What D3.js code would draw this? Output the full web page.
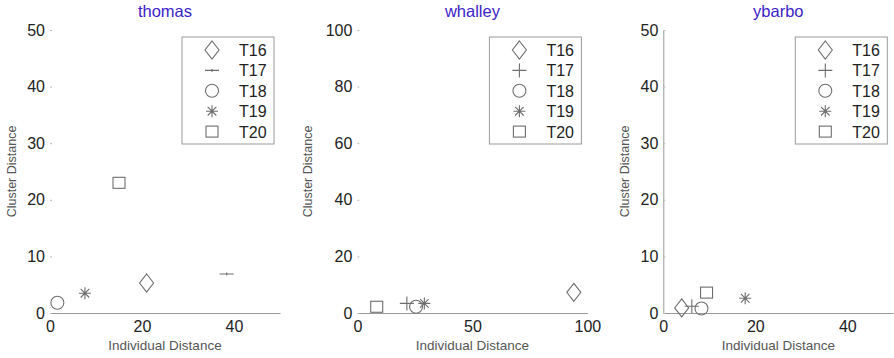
<!DOCTYPE html>
<html>
<head>
<meta charset="utf-8">
<title>Cluster vs Individual Distance</title>
<script src="https://d3js.org/d3.v7.min.js"></script>
<style>
  body { margin: 0; background: #fff; }
  text { font-family: "Liberation Sans", Arial, sans-serif; }
</style>
</head>
<body>
<div id="chart"></div>
<script>
// data
var names = ["thomas", "whalley", "ybarbo"];
var series = ["T16", "T17", "T18", "T19", "T20"];
var shapes = ["diamond", "plus", "circle", "star", "square"];
var thomasX = [21, 38.4, 1.6, 7.6, 15];
var thomasY = [5.3, 6.9, 1.8, 3.5, 23];
var whalleyX = [94.1, 21.5, 25.5, 29.1, 8.4];
var whalleyY = [7.3, 3.4, 2.2, 3.4, 2.2];
var ybarboX = [4.0, 6.2, 8.3, 17.8, 9.4];
var ybarboY = [0.9, 1.2, 0.8, 2.6, 3.6];
var xMax = [50, 100, 50];
var yMax = [50, 100, 50];
var xTicks = [[0, 20, 40], [0, 50, 100], [0, 20, 40]];
var yTicks = [[0, 10, 20, 30, 40, 50], [0, 20, 40, 60, 80, 100], [0, 10, 20, 30, 40, 50]];

var allX = [thomasX, whalleyX, ybarboX];
var allY = [thomasY, whalleyY, ybarboY];

var W = 894, H = 358;
var svg = d3.select("#chart").append("svg").attr("width", W).attr("height", H);

// layout of each panel
var left = [50, 357.4, 663.3];
var plotW = 230, plotTop = 30, plotBottom = 313;
var ylabX = [12, 308, 625];
var showYLine = [false, false, true];
var plusV = [1.5, 7, 7];
var markerColor = "#6e6e6e";

function drawMarker(g, shape, cx, cy, pv) {
  var s = g.append("g").attr("transform", "translate(" + cx + "," + cy + ")")
    .attr("fill", "none").attr("stroke", markerColor).attr("stroke-width", 1.1);
  if (shape == "diamond") {
    s.append("path").attr("d", "M0,-9L7,0L0,9L-7,0Z");
  } else if (shape == "plus") {
    s.append("path").attr("d", "M-7,0H7M0,-" + pv + "V" + pv);
  } else if (shape == "circle") {
    s.append("circle").attr("r", 6.5);
  } else if (shape == "star") {
    s.append("path").attr("d", "M-6,0H6M0,-6V6M-4.3,-4.3L4.3,4.3M-4.3,4.3L4.3,-4.3");
  } else if (shape == "square") {
    s.append("rect").attr("x", -6).attr("y", -5.5).attr("width", 12).attr("height", 11);
  }
}

names.forEach(function(name, p) {
  var x = d3.scaleLinear().domain([0, xMax[p]]).range([left[p], left[p] + plotW]);
  var y = d3.scaleLinear().domain([0, yMax[p]]).range([plotBottom, plotTop]);
  var g = svg.append("g");

  // x axis
  var xa = g.append("g").attr("transform", "translate(0," + plotBottom + ")")
    .call(d3.axisBottom(x).tickValues(xTicks[p]).tickSize(0).tickPadding(8).tickSizeOuter(0));
  xa.select(".domain").attr("stroke", "#9a9a9a");
  xa.selectAll("text").attr("fill", "#222").style("font-size", "16px");

  // y axis
  var ya = g.append("g").attr("transform", "translate(" + left[p] + ",0)")
    .call(d3.axisLeft(y).tickValues(yTicks[p]).tickSize(-2).tickPadding(5).tickSizeOuter(0));
  ya.select(".domain").attr("stroke", showYLine[p] ? "#9a9a9a" : "none");
  ya.selectAll(".tick line").attr("stroke", "#bbb");
  ya.selectAll("text").attr("fill", "#222").style("font-size", "16px");

  // title
  g.append("text").attr("x", left[p] + 115).attr("y", 17).attr("text-anchor", "middle")
    .attr("fill", "#3b22c9").style("font-size", "16.5px").text(name);

  // axis labels
  g.append("text").attr("x", left[p] + 115).attr("y", 350).attr("text-anchor", "middle")
    .attr("fill", "#555").style("font-size", "13.5px").text("Individual Distance");
  g.append("text").attr("transform", "translate(" + (ylabX[p] + 4) + "," + ((plotTop + plotBottom) / 2) + ") rotate(-90)")
    .attr("text-anchor", "middle").attr("fill", "#555").style("font-size", "12.5px").text("Cluster Distance");

  // points
  series.forEach(function(s, i) {
    drawMarker(g, shapes[i], x(allX[p][i]), y(allY[p][i]), plusV[p]);
  });

  // legend
  var lx = left[p] + 132, ly = 37;
  var lg = g.append("g").attr("transform", "translate(" + lx + "," + ly + ")");
  lg.append("rect").attr("width", 92).attr("height", 107).attr("fill", "#fff")
    .attr("stroke", "#9a9a9a");
  series.forEach(function(s, i) {
    var ry = 13 + i * 20.4;
    drawMarker(lg, shapes[i], 30, ry, plusV[p]);
    lg.append("text").attr("x", 57).attr("y", ry + 6).attr("fill", "#222")
      .style("font-size", "16px").text(s);
  });
});
</script>
</body>
</html>
